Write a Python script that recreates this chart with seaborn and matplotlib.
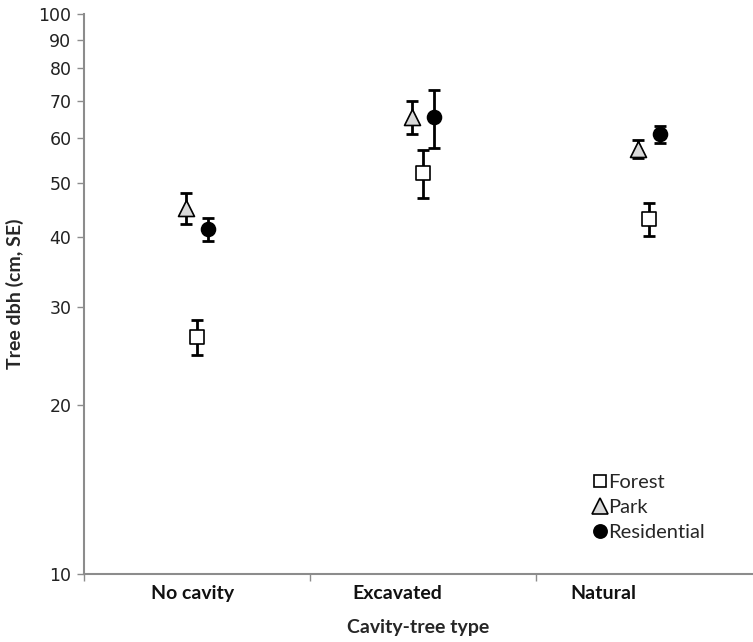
import numpy as np
import pandas as pd
import matplotlib
matplotlib.use("Agg")
import matplotlib.pyplot as plt
from matplotlib.lines import Line2D
import seaborn as sns

# cavity-tree types and tree dbh (cm) means with SE
categories = ["No cavity", "Excavated", "Natural"]
forest_mean = [26.5, 52.1, 43.1]
forest_se = [1.9, 5.1, 2.95]
park_mean = [45.0, 65.5, 57.4]
park_se = [2.9, 4.4, 2.1]
res_mean = [41.3, 65.4, 61.0]
res_se = [1.95, 7.7, 2.2]
yticks = [10, 20, 30, 40, 50, 60, 70, 80, 90, 100]

habitats = ["Forest", "Park", "Residential"]
offsets = {"Forest": 0.0, "Park": -0.05, "Residential": 0.05}
markers = {"Forest": "s", "Park": "^", "Residential": "o"}
fills = {"Forest": "white", "Park": "#d9d9d9", "Residential": "black"}
sizes = {"Forest": 9.5, "Park": 11.5, "Residential": 10}

rows = []
for hab, means, ses in [("Forest", forest_mean, forest_se),
                        ("Park", park_mean, park_se),
                        ("Residential", res_mean, res_se)]:
    for i, cat in enumerate(categories):
        rows.append({"habitat": hab, "type": cat, "x": i + offsets[hab],
                     "dbh": means[i], "se": ses[i]})
df = pd.DataFrame(rows)

sns.set_theme(style="white")
plt.rcParams["font.family"] = ["DejaVu Sans"]

fig = plt.figure(figsize=(7.53, 6.42), dpi=100)
ax = fig.add_axes([84 / 753, 1 - 574 / 642, 668 / 753, 560 / 642])

for hab in habitats:
    sub = df[df["habitat"] == hab]
    ax.errorbar(sub["x"], sub["dbh"], yerr=sub["se"], fmt="none",
                ecolor="black", elinewidth=2, capsize=4.5, capthick=2, zorder=2)
    sns.scatterplot(data=sub, x="x", y="dbh", marker=markers[hab],
                    s=sizes[hab] ** 2, color=fills[hab], edgecolor="black",
                    linewidth=1.2, ax=ax, zorder=3, legend=False)

ax.set_yscale("log")
ax.set_ylim(10, 100)
ax.set_yticks(yticks)
ax.set_yticklabels([str(t) for t in yticks], fontsize=12.5, color="#222222")
ax.minorticks_off()
ax.set_xlim(-0.5, 2.456)
ax.set_xticks([-0.5, 0.5, 1.5])
ax.set_xticklabels([])

for sp in ["top", "right"]:
    ax.spines[sp].set_visible(False)
for sp in ["left", "bottom"]:
    ax.spines[sp].set_color("#8c8c8c")
    ax.spines[sp].set_linewidth(1.5)
ax.tick_params(axis="both", which="major", direction="out", length=5,
               width=1, color="#8c8c8c", left=True, bottom=True, pad=4)

label_font = dict(family=["Lato", "DejaVu Sans"], fontweight="bold", fontsize=14)
label_x = [-0.02, 0.885, 1.80]
for xpos, cat in zip(label_x, categories):
    ax.text(xpos, -0.034, cat, transform=ax.get_xaxis_transform(),
            ha="center", va="center", color="#111111", **label_font)

ax.set_xlabel("Cavity-tree type", **label_font)
ax.xaxis.set_label_coords(0.5, -0.095)
ax.xaxis.label.set_verticalalignment("center")
ax.set_ylabel("Tree dbh (cm, SE)", **label_font)
ax.yaxis.set_label_coords(-0.103, 0.5)
ax.yaxis.label.set_verticalalignment("center")

handles = [Line2D([], [], linestyle="none", marker=markers[h],
                  markerfacecolor=fills[h], markeredgecolor="black",
                  markeredgewidth=1.2, markersize=sizes[h] * 0.95)
           for h in habitats]
leg = ax.legend(handles, habitats, loc="upper left",
                bbox_to_anchor=((594 - 84) / 668, (574 - 474) / 560),
                frameon=False, handlelength=0.6, handletextpad=0.1,
                labelspacing=0.4, borderaxespad=0, borderpad=0,
                prop={"family": ["Lato", "DejaVu Sans"], "size": 14.5})

fig.savefig("out.png", dpi=100)
